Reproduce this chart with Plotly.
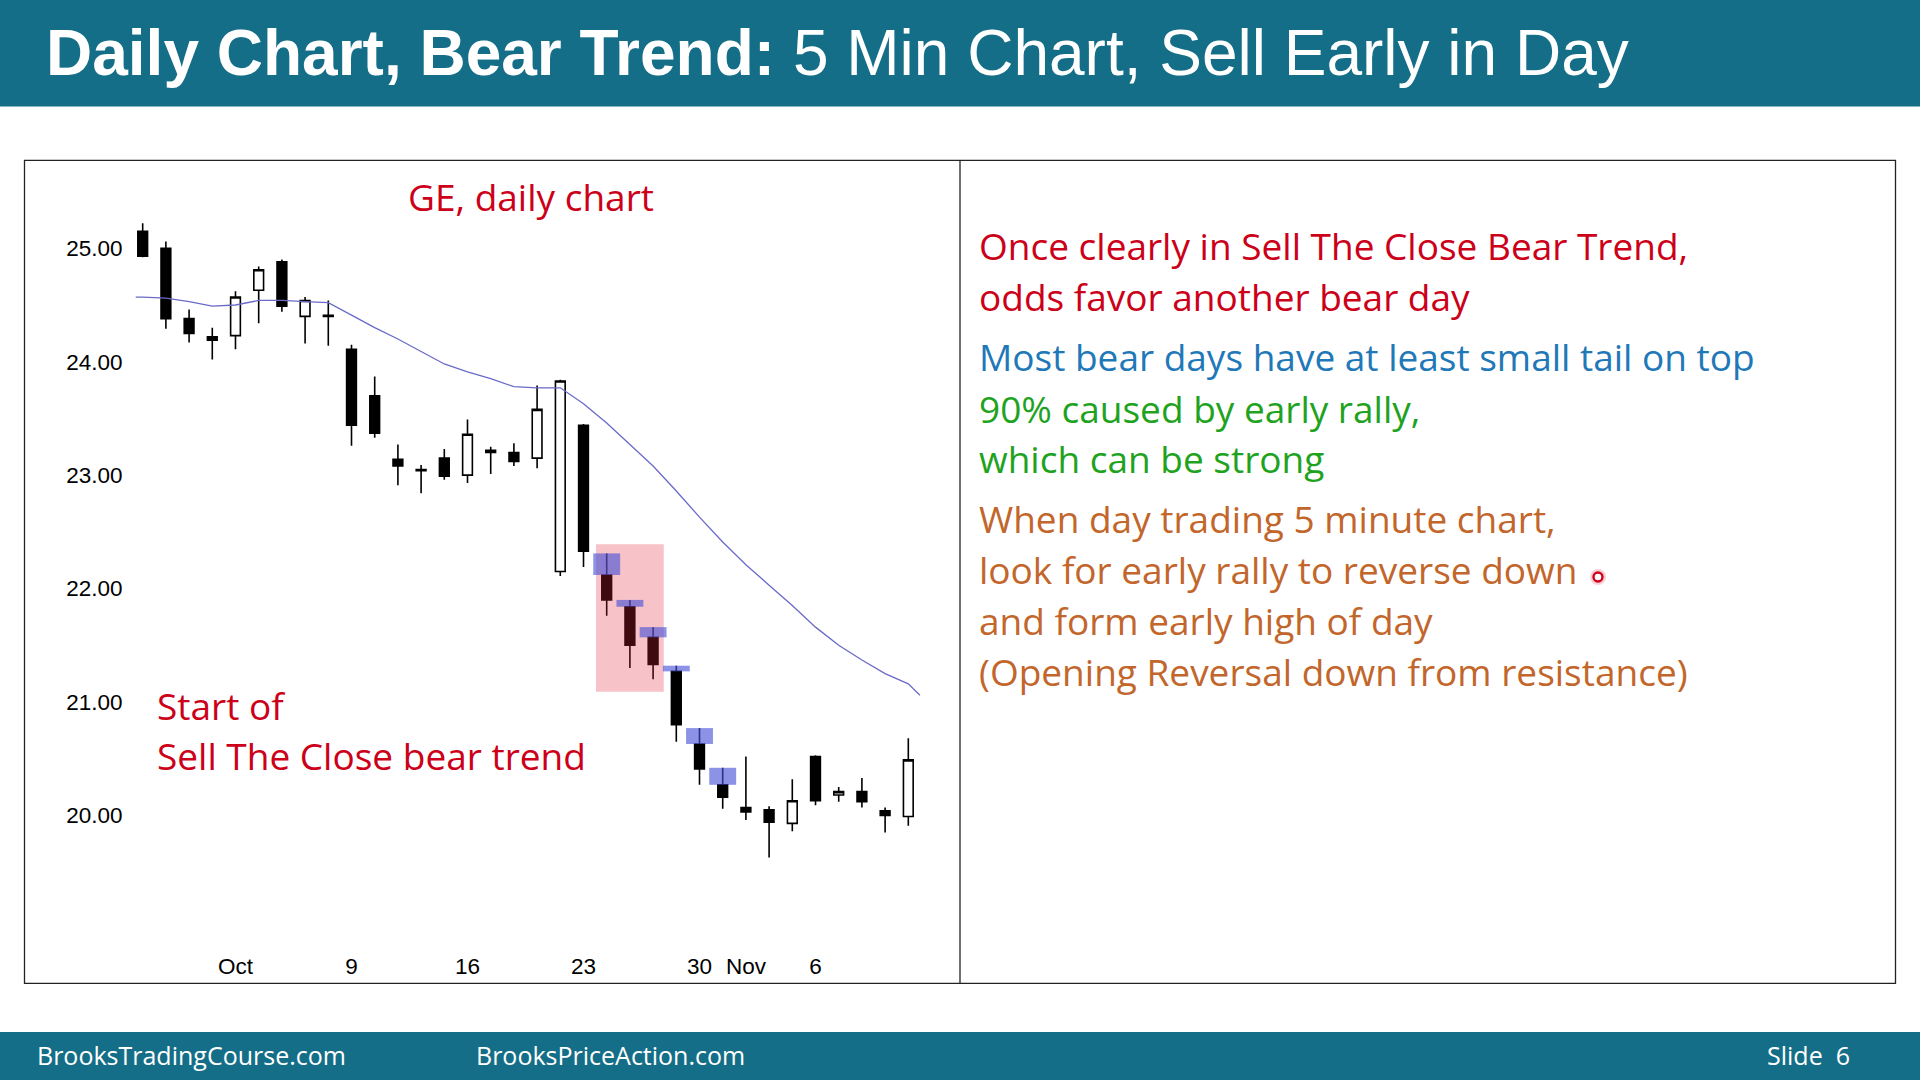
import plotly.graph_objects as go

# ---------------- data ----------------
dates = ["2017-09-26", "2017-09-27", "2017-09-28", "2017-09-29",
         "2017-10-02", "2017-10-03", "2017-10-04", "2017-10-05", "2017-10-06",
         "2017-10-09", "2017-10-10", "2017-10-11", "2017-10-12", "2017-10-13",
         "2017-10-16", "2017-10-17", "2017-10-18", "2017-10-19", "2017-10-20",
         "2017-10-23", "2017-10-24", "2017-10-25", "2017-10-26", "2017-10-27",
         "2017-10-30", "2017-10-31", "2017-11-01", "2017-11-02", "2017-11-03",
         "2017-11-06", "2017-11-07", "2017-11-08", "2017-11-09", "2017-11-10"]

open_ = [25.15, 25.00, 24.38, 24.22, 24.23, 24.63, 24.88, 24.40, 24.41,
         24.11, 23.70, 23.14, 23.05, 23.15, 23.00, 23.22, 23.20, 23.15, 22.15,
         23.44, 22.12, 21.84, 21.57, 21.27, 20.63, 20.27, 20.07, 20.05, 19.93,
         20.52, 20.18, 20.21, 20.04, 19.99]
high = [25.22, 25.06, 24.46, 24.30, 24.62, 24.84, 24.90, 24.57, 24.54,
        24.15, 23.87, 23.27, 23.09, 23.23, 23.49, 23.25, 23.28, 23.79, 23.84,
        23.45, 22.31, 21.90, 21.66, 21.32, 20.77, 20.42, 20.52, 20.08, 20.32,
        20.53, 20.25, 20.33, 20.07, 20.68]
low = [24.92, 24.29, 24.17, 24.02, 24.11, 24.34, 24.44, 24.16, 24.14,
       23.26, 23.33, 22.91, 22.84, 22.96, 22.93, 23.01, 23.08, 23.06, 22.11,
       22.19, 21.76, 21.30, 21.20, 20.65, 20.27, 20.06, 19.96, 19.63, 19.86,
       20.09, 20.12, 20.07, 19.85, 19.91]
close = [24.93, 24.38, 24.25, 24.19, 24.57, 24.81, 24.49, 24.54, 24.40,
         23.44, 23.37, 23.08, 23.04, 22.99, 23.36, 23.20, 23.12, 23.58, 23.83,
         22.33, 21.90, 21.50, 21.33, 20.80, 20.41, 20.16, 20.03, 19.94, 20.13,
         20.13, 20.21, 20.12, 20.00, 20.49]
# moving average as drawn (bar positions, plus the line's visible start / end points)
ma_pos = [-0.3] + list(range(34)) + [33.5]
ma = [24.57,
      24.57, 24.56, 24.53, 24.49, 24.50, 24.54, 24.54, 24.53, 24.52,
      24.41, 24.30, 24.20, 24.09, 23.98, 23.91, 23.85, 23.78, 23.77, 23.77,
      23.63, 23.46, 23.27, 23.08, 22.86, 22.63, 22.41, 22.21, 22.03, 21.85,
      21.66, 21.50, 21.37, 21.25, 21.16,
      21.06]

tick_dates = ["2017-10-02", "2017-10-09", "2017-10-16", "2017-10-23",
              "2017-10-30", "2017-11-01", "2017-11-06"]
tick_labels = ["Oct", "9", "16", "23", "30", "Nov", "6"]
y_ticks = [20, 21, 22, 23, 24, 25]

tail_dates = ["2017-10-24", "2017-10-25", "2017-10-26", "2017-10-27",
              "2017-10-30", "2017-10-31"]
zone_dates = ["2017-10-24", "2017-10-26"]
zone_prices = [21.09, 22.39]

title_bold = "Daily Chart, Bear Trend:"
title_rest = " 5 Min Chart, Sell Early in Day"
chart_label = "GE, daily chart"
start_lines = ["Start of", "Sell The Close bear trend"]
right_lines = [
    ("Once clearly in Sell The Close Bear Trend,", "#cc0018"),
    ("odds favor another bear day", "#cc0018"),
    ("Most bear days have at least small tail on top", "#1f78b8"),
    ("90% caused by early rally,", "#1fa31f"),
    ("which can be strong", "#1fa31f"),
    ("When day trading 5 minute chart,", "#c2662b"),
    ("look for early rally to reverse down", "#c2662b"),
    ("and form early high of day", "#c2662b"),
    ("(Opening Reversal down from resistance)", "#c2662b"),
]
right_y = [246, 296, 356, 408, 458, 518, 569, 620, 671]
footer_left = "BrooksTradingCourse.com"
footer_mid = "BrooksPriceAction.com"
footer_right = "Slide  6"

# ---------------- helpers ----------------
W, H = 1920, 1080
def px(x):
    return x / W
def py(y):
    return 1 - y / H

idx = list(range(len(dates)))
pos = {d: i for i, d in enumerate(dates)}
TEAL = "#146e87"
TXT = "Open Sans"
TS = 37

fig = go.Figure()
fig.add_trace(go.Candlestick(
    x=idx, open=open_, high=high, low=low, close=close,
    increasing=dict(line=dict(color="black", width=1.6), fillcolor="white"),
    decreasing=dict(line=dict(color="black", width=1.6), fillcolor="black"),
    whiskerwidth=0, showlegend=False, hoverinfo="skip",
))
fig.add_trace(go.Scatter(
    x=ma_pos, y=ma, mode="lines", line=dict(color="#6a6ac8", width=1.3),
    showlegend=False, hoverinfo="skip", cliponaxis=False,
))

shapes = []
shapes.append(dict(type="rect", xref="paper", yref="paper", x0=0, x1=1,
                   y0=py(106.5), y1=1, fillcolor=TEAL, line=dict(width=0), layer="below"))
shapes.append(dict(type="rect", xref="paper", yref="paper", x0=0, x1=1,
                   y0=0, y1=py(1032), fillcolor=TEAL, line=dict(width=0), layer="below"))
shapes.append(dict(type="rect", xref="paper", yref="paper", x0=px(24.5), x1=px(1895.5),
                   y0=py(983.3), y1=py(160.4), line=dict(color="#222222", width=1.3),
                   fillcolor="rgba(0,0,0,0)", layer="below"))
shapes.append(dict(type="line", xref="paper", yref="paper", x0=px(960), x1=px(960),
                   y0=py(983.3), y1=py(160.4), line=dict(color="#222222", width=1.3)))
z0, z1 = pos[zone_dates[0]], pos[zone_dates[1]]
shapes.append(dict(type="rect", xref="x", yref="y", x0=z0 - 0.46, x1=z1 + 0.46,
                   y0=zone_prices[0], y1=zone_prices[1],
                   fillcolor="rgba(225,40,60,0.28)", line=dict(width=0), layer="above"))
for d in tail_dates:
    i = pos[d]
    shapes.append(dict(type="rect", xref="x", yref="y", x0=i - 0.58, x1=i + 0.58,
                       y0=open_[i], y1=high[i],
                       fillcolor="rgba(70,80,215,0.62)", line=dict(width=0), layer="above"))
shapes.append(dict(type="circle", xref="paper", yref="paper",
                   x0=px(1590), x1=px(1606), y0=py(585), y1=py(569),
                   fillcolor="rgba(240,120,140,0.35)", line=dict(width=0)))
shapes.append(dict(type="circle", xref="paper", yref="paper",
                   x0=px(1593.5), x1=px(1602.5), y0=py(581.5), y1=py(572.5),
                   fillcolor="white", line=dict(color="#d0001c", width=2.4)))

annotations = []
annotations.append(dict(xref="paper", yref="paper", x=px(44), y=py(53),
                        xanchor="left", yanchor="middle", showarrow=False,
                        text="<b>" + title_bold + "</b>" + title_rest,
                        font=dict(family="Liberation Sans", size=64, color="white")))
annotations.append(dict(xref="paper", yref="paper", x=px(531), y=py(197),
                        xanchor="center", yanchor="middle", showarrow=False,
                        text=chart_label, font=dict(family=TXT, size=TS, color="#cc0018")))
for t, yy in zip(start_lines, [705.5, 755]):
    annotations.append(dict(xref="paper", yref="paper", x=px(155), y=py(yy),
                            xanchor="left", yanchor="middle", showarrow=False,
                            text=t, font=dict(family=TXT, size=TS, color="#cc0018")))
for (t, c), yy in zip(right_lines, right_y):
    annotations.append(dict(xref="paper", yref="paper", x=px(977), y=py(yy),
                            xanchor="left", yanchor="middle", showarrow=False,
                            text=t, font=dict(family=TXT, size=TS, color=c)))
for t, xx, anc in [(footer_left, 35, "left"), (footer_mid, 474, "left"),
                   (footer_right, 1852, "right")]:
    annotations.append(dict(xref="paper", yref="paper", x=px(xx), y=py(1055),
                            xanchor=anc, yanchor="middle", showarrow=False,
                            text=t, font=dict(family=TXT, size=25, color="white")))

fig.update_layout(
    width=W, height=H,
    margin=dict(l=0, r=0, t=0, b=0),
    paper_bgcolor="white", plot_bgcolor="white",
    shapes=shapes, annotations=annotations,
    boxgap=0.4,
    showlegend=False,
    xaxis=dict(domain=[px(130), px(930)], range=[-0.547, 33.935],
               tickmode="array", tickvals=[pos[d] for d in tick_dates], ticktext=tick_labels,
               showgrid=False, zeroline=False, showline=False,
               ticks="outside", ticklen=16, tickcolor="rgba(0,0,0,0)",
               tickfont=dict(family="Liberation Sans", size=22.5, color="black"),
               rangeslider=dict(visible=False), fixedrange=True),
    yaxis=dict(domain=[py(930), py(170)], range=[18.99, 25.69],
               tickmode="array", tickvals=y_ticks, tickformat=".2f",
               showgrid=False, zeroline=False, showline=False,
               ticks="outside", ticklen=2, tickcolor="rgba(0,0,0,0)",
               tickfont=dict(family="Liberation Sans", size=22.5, color="black"),
               fixedrange=True),
)

fig.write_html("out.html", config={"displayModeBar": False})
